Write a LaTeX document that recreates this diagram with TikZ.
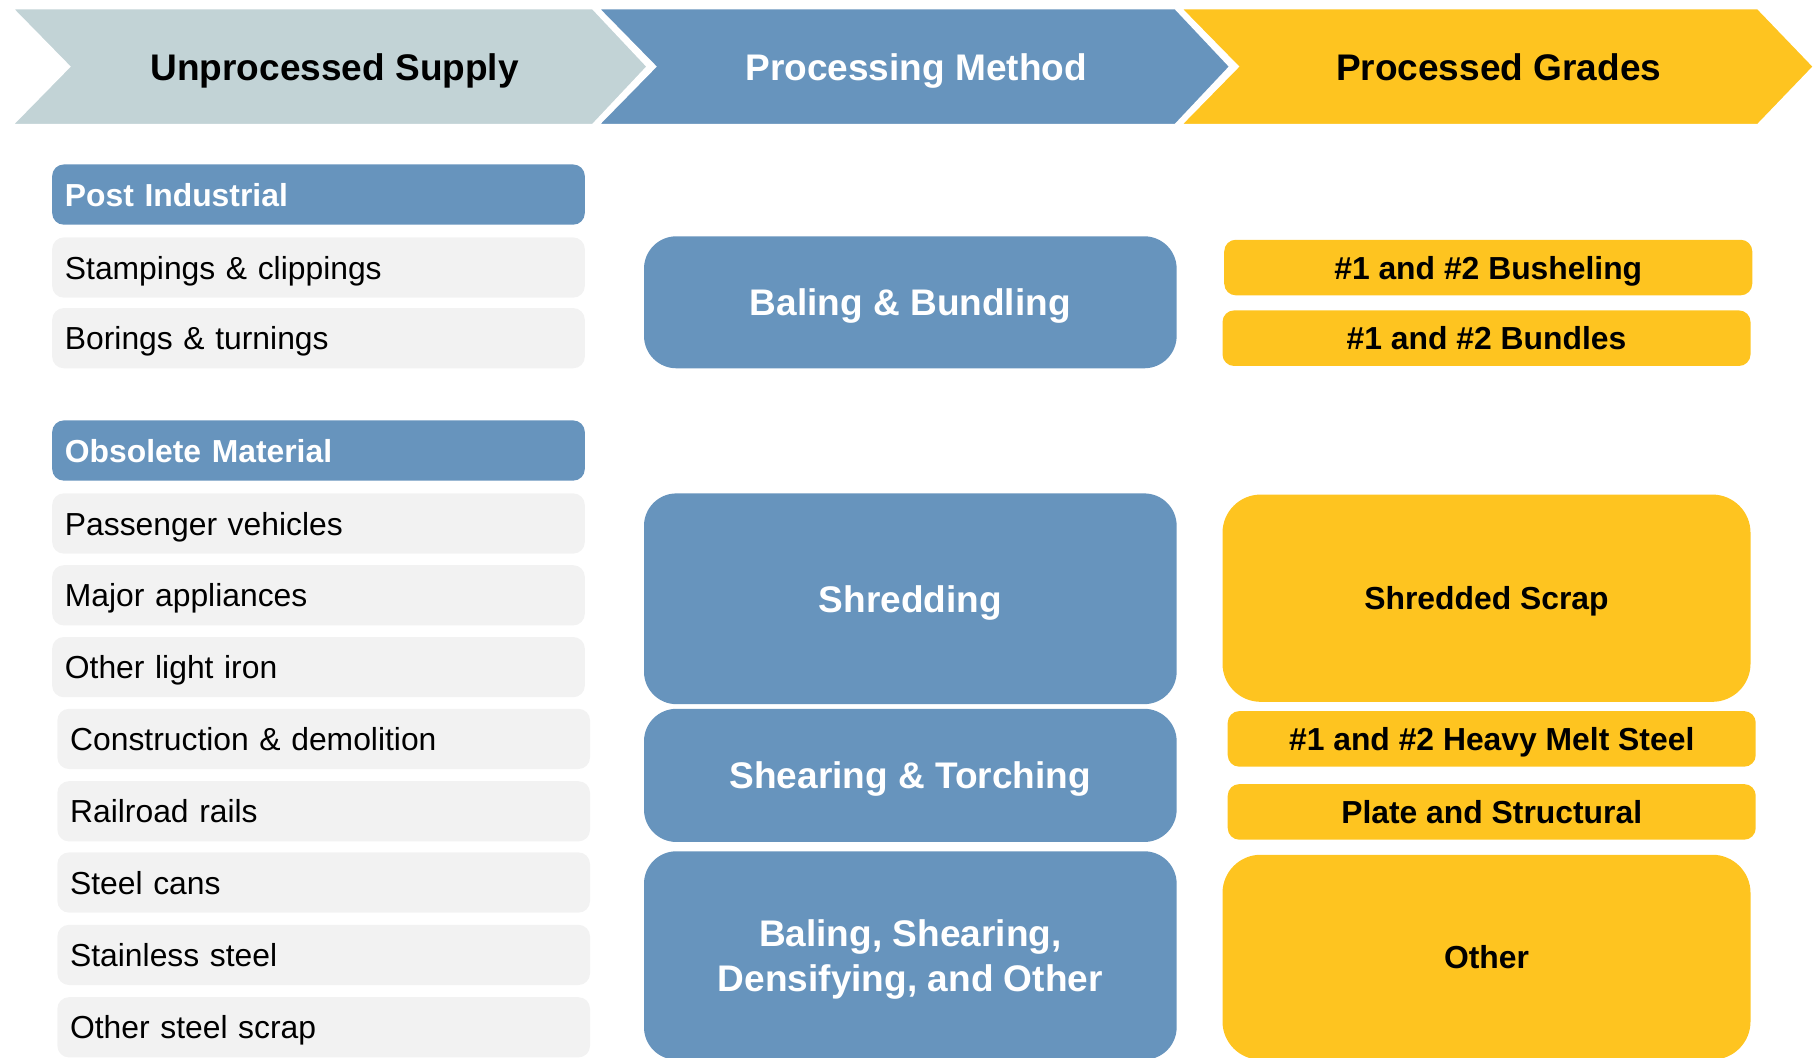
\documentclass[tikz,border=0pt]{standalone}
\usepackage{fontspec}
\setmainfont{Liberation Sans}
\usepackage{tikz}
\usetikzlibrary{calc}
\definecolor{steelb}{RGB}{103,148,189}
\definecolor{greyb}{RGB}{194,211,214}
\definecolor{ambery}{RGB}{254,196,32}
\definecolor{lightg}{RGB}{242,242,242}
\tikzset{
  chev/.style={draw=white,line width=0.06cm,line join=miter},
  headtxt/.style={text depth=0pt,font=\fontsize{18.2}{21}\selectfont\bfseries},
  item/.style={fill=lightg,rounded corners=0.2cm,minimum height=1.04cm,text width=8.76cm,inner xsep=0.22cm,align=left,text=black,text depth=0pt,font=\fontsize{15.65}{18}\selectfont},
  cat/.style={item,fill=steelb,text=white,font=\fontsize{15.65}{18}\selectfont\bfseries},
  method/.style={fill=steelb,text=white,rounded corners=0.56cm,minimum width=9.2cm,align=center,text depth=0pt,font=\fontsize{18.2}{22.2}\selectfont\bfseries},
  grade/.style={fill=ambery,text=black,rounded corners=0.2cm,minimum width=9.12cm,minimum height=0.96cm,align=center,text depth=0pt,font=\fontsize{15.65}{18}\selectfont\bfseries},
  biggrade/.style={grade,rounded corners=0.66cm}
}

\begin{document}
\begin{tikzpicture}[line cap=round,line join=round,x=0.02cm,y=-0.02cm]
  \useasboundingbox (0,0) rectangle (1568,913);
  % header chevrons
  \draw[chev,fill=greyb] (9,6.5) -- (512,6.5) -- (560,57.5) -- (512,108.5) -- (9,108.5) -- (59,57.5) -- cycle;
  \draw[chev,fill=steelb] (515,6.5) -- (1015,6.5) -- (1063,57.5) -- (1015,108.5) -- (515,108.5) -- (565,57.5) -- cycle;
  \draw[chev,fill=ambery] (1018,6.5) -- (1518,6.5) -- (1567,57.5) -- (1518,108.5) -- (1018,108.5) -- (1068,57.5) -- cycle;
  \node[headtxt,text=black] (supply) at (289,57.5) {Unprocessed Supply};
  \node[headtxt,text=white] (method) at (791,57.5) {Processing Method};
  \node[headtxt,text=black] (grades) at (1294,57.5) {Processed Grades};

  % unprocessed supply
  \node[cat] (postind) at (275,168) {Post Industrial};
  \node[item] (stamp) at (275,231) {Stampings \& clippings};
  \node[item] (boring) at (275,292) {Borings \& turnings};
  \node[cat] (obsolete) at (275,389) {Obsolete Material};
  \node[item] (passenger) at (275,452) {Passenger vehicles};
  \node[item] (appliance) at (275,514) {Major appliances};
  \node[item] (lightiron) at (275,576) {Other light iron};
  \node[item] (construct) at (279.5,638) {Construction \& demolition};
  \node[item] (rails) at (279.5,700.5) {Railroad rails};
  \node[item] (cans) at (279.5,762) {Steel cans};
  \node[item] (stainless) at (279.5,824.5) {Stainless steel};
  \node[item] (otherscrap) at (279.5,887) {Other steel scrap};

  % processing method
  \node[method,minimum height=2.28cm] (baling) at (786,261) {Baling \& Bundling};
  \node[method,minimum height=3.64cm] (shred) at (786,517) {Shredding};
  \node[method,minimum height=2.3cm] (shear) at (786,669.5) {Shearing \& Torching};
  \node[method,minimum height=3.6cm] (densify) at (786,825) {Baling, Shearing,\\Densifying, and Other};

  % processed grades
  \node[grade] (bushel) at (1285,231) {\#1 and \#2 Busheling};
  \node[grade] (bundles) at (1283.5,292) {\#1 and \#2 Bundles};
  \node[biggrade,minimum height=3.58cm] (shredscrap) at (1283.5,516.5) {Shredded Scrap};
  \node[grade] (hms) at (1288,638) {\#1 and \#2 Heavy Melt Steel};
  \node[grade] (plate) at (1288,701) {Plate and Structural};
  \node[biggrade,minimum height=3.54cm] (othergrade) at (1283.5,826.5) {Other};
\end{tikzpicture}
\end{document}
